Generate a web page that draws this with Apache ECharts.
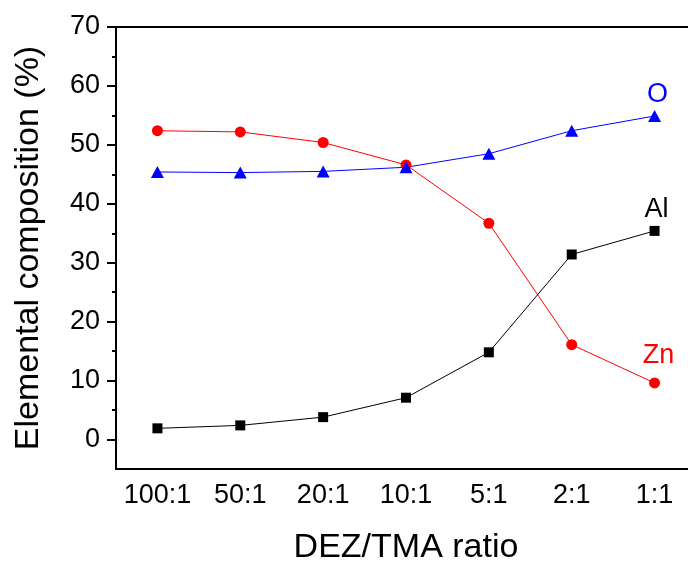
<!DOCTYPE html>
<html>
<head>
<meta charset="utf-8">
<script src="https://cdn.jsdelivr.net/npm/echarts@6/dist/echarts.min.js"></script>
<style>
  html, body { margin: 0; padding: 0; background: #fff; }
  #chart { width: 688px; height: 562px; }
</style>
</head>
<body>
<div id="chart"></div>
<script>
// DEZ/TMA pulse ratios along the x axis
const ratios = ['100:1', '50:1', '20:1', '10:1', '5:1', '2:1', '1:1'];
// Elemental composition (%) per ratio
const zinc = [52.4, 52.2, 50.4, 46.6, 36.7, 16.1, 9.6];
const oxygen = [45.4, 45.3, 45.5, 46.2, 48.5, 52.4, 54.9];
const aluminium = [1.9, 2.4, 3.8, 7.1, 14.8, 31.4, 35.4];
const majorTicks = [0, 10, 20, 30, 40, 50, 60, 70];
const minorTicks = [5, 15, 25, 35, 45, 55, 65];

const font = 'Liberation Sans, Arial, sans-serif';

function withEndLabel(values, text, color, dist, dx) {
  return values.map((v, i) => i === values.length - 1
    ? { value: v, label: { show: true, position: 'top', distance: dist, offset: [dx, 0],
        formatter: text, color: color, fontSize: 27, fontFamily: font } }
    : v);
}

const axisColor = { color: '#000', width: 2 };

const chart = echarts.init(document.getElementById('chart'));
chart.setOption({
  animation: false,
  grid: { left: 116, top: 27, width: 580, bottom: 93, containLabel: false, outerBoundsMode: 'none' },
  xAxis: [{
    type: 'category',
    data: ratios,
    boundaryGap: true,
    name: 'DEZ/TMA ratio',
    nameLocation: 'middle',
    nameGap: 62,
    nameTextStyle: { fontSize: 34, fontFamily: font, color: '#000' },
    axisLine: { onZero: false, lineStyle: axisColor },
    axisTick: { alignWithLabel: true, interval: 0, length: 10, lineStyle: axisColor },
    axisLabel: { interval: 0, hideOverlap: false, fontSize: 27, fontFamily: font, color: '#000', margin: 13 },
    splitLine: { show: false }
  }, {
    type: 'category',
    data: ratios,
    position: 'top',
    axisLine: { onZero: false, lineStyle: axisColor },
    axisTick: { show: false },
    axisLabel: { show: false }
  }],
  yAxis: [{
    type: 'value',
    min: -5,
    max: 70,
    interval: 5,
    name: 'Elemental composition (%)',
    nameLocation: 'middle',
    nameGap: 70,
    nameTextStyle: { fontSize: 34, fontFamily: font, color: '#000' },
    axisLine: { show: true, onZero: false, lineStyle: axisColor },
    axisTick: { show: true, length: 9, customValues: majorTicks, lineStyle: axisColor },
    axisLabel: {
      fontSize: 27, fontFamily: font, color: '#000', margin: 16,
      customValues: majorTicks
    },
    splitLine: { show: false }
  }, {
    // short minor ticks halfway between the labelled ones
    type: 'value',
    min: -5,
    max: 70,
    interval: 5,
    position: 'left',
    axisLine: { show: false },
    axisTick: { show: true, length: 4, customValues: minorTicks, lineStyle: axisColor },
    axisLabel: { show: false },
    splitLine: { show: false }
  }, {
    type: 'value',
    min: -5,
    max: 70,
    interval: 5,
    position: 'right',
    axisLine: { show: true, onZero: false, lineStyle: axisColor },
    axisTick: { show: false },
    axisLabel: { show: false },
    splitLine: { show: false }
  }],
  series: [
    {
      name: 'Zn', type: 'line', data: withEndLabel(zinc, 'Zn', '#ff0000', 8, 4),
      symbol: 'circle', symbolSize: 11,
      itemStyle: { color: '#ff0000' },
      lineStyle: { color: '#ff0000', width: 1 }
    },
    {
      name: 'O', type: 'line', data: withEndLabel(oxygen, 'O', '#0000ff', 2, 3),
      symbol: 'triangle', symbolSize: [13, 12],
      itemStyle: { color: '#0000ff' },
      lineStyle: { color: '#0000ff', width: 1 }
    },
    {
      name: 'Al', type: 'line', data: withEndLabel(aluminium, 'Al', '#000000', 3, 2),
      symbol: 'rect', symbolSize: 10,
      itemStyle: { color: '#000000' },
      lineStyle: { color: '#000000', width: 1 }
    }
  ]
});
</script>
</body>
</html>
